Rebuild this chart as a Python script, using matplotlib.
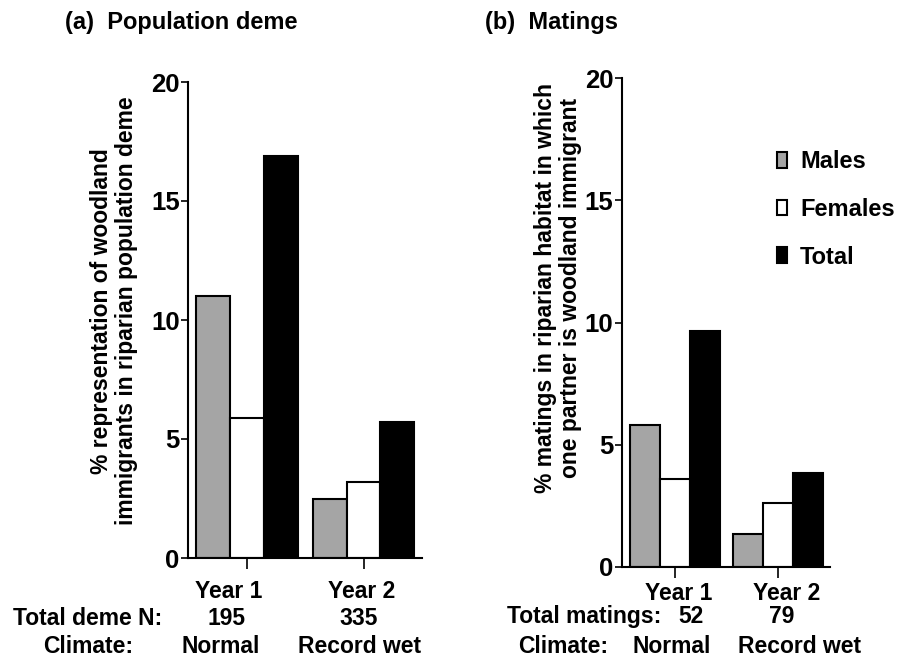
import matplotlib
matplotlib.use("Agg")
import matplotlib.pyplot as plt
import numpy as np

# ---- data ----
series = ["Males", "Females", "Total"]
colors = ["#a5a5a5", "#ffffff", "#000000"]
years = ["Year 1", "Year 2"]
deme_pct = {"Males": [11.0, 2.5], "Females": [5.9, 3.2], "Total": [16.9, 5.7]}
mating_pct = {"Males": [5.8, 1.35], "Females": [3.6, 2.6], "Total": [9.65, 3.85]}
deme_n = [195, 335]
matings_n = [52, 79]
climate = ["Normal", "Record wet"]
yticks = [0, 5, 10, 15, 20]

plt.rcParams["font.family"] = ["Liberation Sans", "DejaVu Sans"]
plt.rcParams["font.weight"] = "bold"

W, H = 897, 659
fig = plt.figure(figsize=(W / 100, H / 100), dpi=100)

def fx(px):
    return px / W

def fy(py):
    return 1 - py / H

def make_axes(rect, data, xlim, ylabel, label_x, label_y):
    ax = fig.add_axes(rect)
    x = np.arange(len(years))
    w = 0.29
    bars = []
    for i, s in enumerate(series):
        b = ax.bar(x + (i - 1) * w, data[s], width=w, color=colors[i],
                   edgecolor="black", linewidth=1.5, label=s)
        bars.append(b)
    ax.set_xlim(*xlim)
    ax.set_ylim(0, 20)
    ax.set_yticks(yticks)
    ax.set_xticks(x)
    ax.set_xticklabels([])
    for sp in ["top", "right"]:
        ax.spines[sp].set_visible(False)
    for sp in ["left", "bottom"]:
        ax.spines[sp].set_linewidth(1.5)
    ax.tick_params(axis="y", length=5, width=1.2, pad=1, labelsize=18.5)
    ax.tick_params(axis="x", length=8, width=1.2)
    for t in ax.get_yticklabels():
        t.set_fontweight("bold")
    ax.set_ylabel(ylabel, fontsize=16.5, fontweight="bold", linespacing=1.1)
    ax.yaxis.set_label_coords(label_x, label_y)
    return ax, bars

axA, barsA = make_axes([fx(188), fy(558), fx(422) - fx(188), fy(82) - fy(558)],
                       deme_pct, (-0.506, 1.502),
                       "% representation of woodland\nimmigrants in riparian population deme",
                       -0.215, 0.519)
axB, barsB = make_axes([fx(621.7), fy(566.7), fx(830) - fx(621.7), fy(78.3) - fy(566.7)],
                       mating_pct, (-0.518, 1.506),
                       "% matings in riparian habitat in which\none partner is woodland immigrant",
                       -0.19, 0.57)

# legend
axB.legend(handles=barsB, labels=series, loc="upper left",
           bbox_to_anchor=(fx(777), fy(150)), bbox_transform=fig.transFigure,
           frameon=False, fontsize=17, handlelength=0.42, handleheight=0.65,
           handletextpad=0.55, labelspacing=1.05, borderpad=0, borderaxespad=0)

# titles
fig.text(fx(65), fy(29), "(a)  Population deme", fontsize=17, fontweight="bold", va="baseline")
fig.text(fx(485), fy(29), "(b)  Matings", fontsize=17, fontweight="bold", va="baseline")

# bottom annotations
fs = 16.5
def t(px, py, s, ha="center"):
    fig.text(fx(px), fy(py), s, fontsize=fs, fontweight="bold",
             ha=ha, va="baseline")

# panel a
for xp, s in zip([229, 362], years):
    t(xp, 598, s)
t(13, 625, "Total deme N:", ha="left")
for xp, n in zip([226, 359], deme_n):
    t(xp, 625, str(n))
t(88, 653, "Climate:")
for xp, c in zip([221, 360], climate):
    t(xp, 653, c)

# panel b
for xp, s in zip([679, 787], years):
    t(xp, 600, s)
t(507, 623, "Total matings:", ha="left")
for xp, n in zip([691, 782], matings_n):
    t(xp, 623, str(n))
t(563, 653, "Climate:")
for xp, c in zip([672, 800], climate):
    t(xp, 653, c)

fig.savefig("out.png", dpi=100)
